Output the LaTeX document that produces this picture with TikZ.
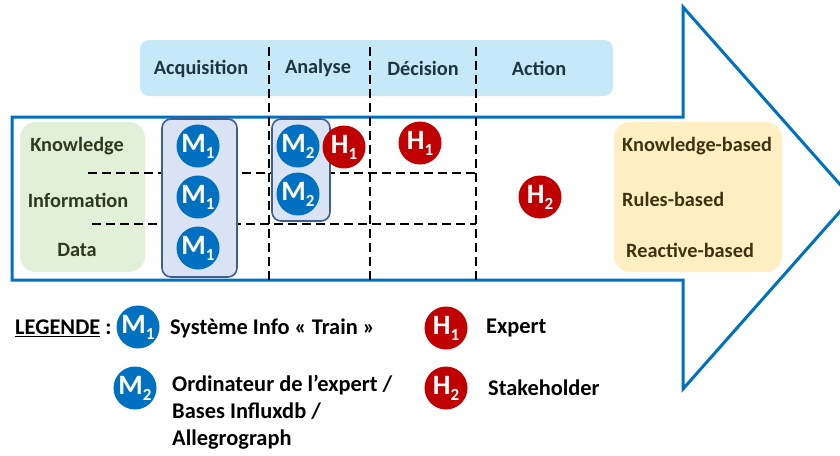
\documentclass[tikz,border=0pt]{standalone}
\usepackage{fontspec}
\setmainfont{Carlito}
\definecolor{arrowblue}{HTML}{0070C0}
\definecolor{headfill}{HTML}{C5E9F8}
\definecolor{headtext}{HTML}{1E3543}
\definecolor{greenfill}{HTML}{E2F0D9}
\definecolor{greentext}{HTML}{2D3A1D}
\definecolor{orangefill}{HTML}{FFEFC2}
\definecolor{orangetext}{HTML}{3E3210}
\definecolor{mboxfill}{HTML}{DAE3F3}
\definecolor{mboxdraw}{HTML}{3E5F8E}
\definecolor{hred}{HTML}{C00000}
\tikzset{
  txt/.style={font=\fontsize{20.3}{24}\selectfont\bfseries, inner sep=0pt},
  ltxt/.style={font=\fontsize{22.4}{27}\selectfont\bfseries, inner sep=0pt},
  mcirc/.style={circle, fill=arrowblue, minimum size=43pt, inner sep=0pt, text=white,
    font=\fontsize{28}{28}\selectfont\bfseries},
  hcirc/.style={mcirc, fill=hred},
  grid/.style={line width=2pt, dash pattern=on 9pt off 5pt},
  mbox/.style={draw=mboxdraw, fill=mboxfill, line width=1.6pt, rounded corners=9pt},
}
\newcommand{\sub}[1]{\raisebox{-6pt}{\fontsize{17}{17}\selectfont #1}}
\begin{document}
\begin{tikzpicture}[x=1pt,y=-1pt]
\useasboundingbox (0,0) rectangle (840,455);
\clip (0,0) rectangle (840,455);
% header band
\fill[headfill, rounded corners=9pt] (140,40) rectangle (613,96);
\node[txt, text=headtext] (hacq) at (201,69) {Acquisition};
\node[txt, text=headtext] (hana) at (318,68) {Analyse};
\node[txt, text=headtext] (hdec) at (423,68) {Décision};
\node[txt, text=headtext] (hact) at (539,68) {Action};
% big arrow
\draw[arrowblue, line width=3pt, line join=miter]
  (12,117) -- (683,117) -- (683,7) -- (852,198) -- (683,389) -- (683,280) -- (12,280) -- cycle;
% green and orange boxes
\fill[greenfill, rounded corners=16pt] (20,122) rectangle (145,272);
\fill[orangefill, rounded corners=16pt] (614,122) rectangle (782,272);
\node[txt, text=greentext] (lk) at (77,146) {Knowledge};
\node[txt, text=greentext] (li) at (78,200) {Information};
\node[txt, text=greentext] (ld) at (77,250) {Data};
\node[txt, text=orangetext, anchor=west] (rk) at (622,146) {Knowledge-based};
\node[txt, text=orangetext, anchor=west] (rr) at (622,199) {Rules-based};
\node[txt, text=orangetext, anchor=west] (rre) at (626,250) {Reactive-based};
% horizontal dashed lines
\draw[grid] (88,173) -- (476,173);
\draw[grid] (92,224) -- (476,224);
% M boxes
\draw[mbox] (162,119) rectangle (237,277);
\draw[mbox] (272,119) rectangle (330,221);
% vertical dashed lines
\draw[grid] (269,47) -- (269,280);
\draw[grid] (370,47) -- (370,280);
\draw[grid] (476,47) -- (476,280);
% circles
\node[mcirc] (m1a) at (198,146) {M\sub{1}};
\node[mcirc] (m1b) at (198,197) {M\sub{1}};
\node[mcirc] (m1c) at (198,248) {M\sub{1}};
\node[mcirc] (m2a) at (298,146) {M\sub{2}};
\node[mcirc] (m2b) at (298,194) {M\sub{2}};
\node[hcirc] (h1a) at (344,147) {H\sub{1}};
\node[hcirc] (h1b) at (420,143) {H\sub{1}};
\node[hcirc] (h2a) at (540,197) {H\sub{2}};
% legend
\node[ltxt, anchor=west] (leg) at (15,328) {\underline{LEGENDE}~:};
\node[mcirc] (lm1) at (138,327) {M\sub{1}};
\node[ltxt, anchor=west] (lm1t) at (170,328) {Système Info « Train »};
\node[mcirc] (lm2) at (135,388) {M\sub{2}};
\node[ltxt, anchor=north west, align=left] (lm2t) at (172,375)
  {Ordinateur de l’expert /\\Bases Influxdb /\\Allegrograph};
\node[hcirc] (lh1) at (446,328) {H\sub{1}};
\node[ltxt, anchor=west] (lh1t) at (486,328) {Expert};
\node[hcirc] (lh2) at (446,388) {H\sub{2}};
\node[ltxt, anchor=west] (lh2t) at (488,388) {Stakeholder};
\end{tikzpicture}
\end{document}
